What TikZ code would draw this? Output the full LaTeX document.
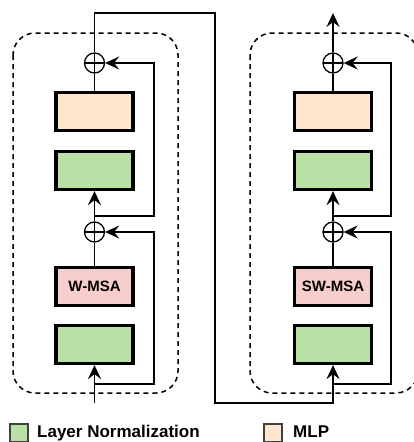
\documentclass[tikz,border=0pt]{standalone}
\usepackage{fontspec}
\setmainfont{Liberation Sans}
\usetikzlibrary{arrows.meta}
\definecolor{lngreen}{HTML}{B9E0A5}
\definecolor{mlporange}{HTML}{FFE6CC}
\definecolor{msapink}{HTML}{F8CECC}
\begin{document}
\begin{tikzpicture}[x=1pt,y=-1pt,
  blk/.style={draw=black,line width=3.2pt,minimum width=77pt,minimum height=38pt,inner sep=0pt,
    font=\bfseries\fontsize{15}{15}\selectfont},
  lnbox/.style={blk,fill=lngreen},
  mlpbox/.style={blk,fill=mlporange},
  msabox/.style={blk,fill=msapink},
  plus/.style={circle,draw,line width=1.3pt,minimum size=20pt,inner sep=0pt,
    path picture={\draw[line width=1.3pt] (path picture bounding box.north) -- (path picture bounding box.south)
      (path picture bounding box.west) -- (path picture bounding box.east);}},
  conn/.style={line width=1.8pt},
  arr/.style={conn,-{Stealth[length=14pt,width=13pt,inset=5pt]}},
  grp/.style={draw,line width=1.5pt,dash pattern=on 5pt off 4pt,rounded corners=22pt},
  legsq/.style={draw=black!75,line width=1.5pt,minimum size=18pt,inner sep=0pt},
  legtxt/.style={anchor=base west,inner sep=0pt,font=\bfseries\fontsize{17}{17}\selectfont}
]
\useasboundingbox (0,0) rectangle (414,442);
% groups
\draw[grp] (13,33) rectangle (178,393);
\draw[grp] (250,33) rectangle (418,393);
% left block
\node[lnbox] (ln1L) at (94.5,344.5) {};
\node[msabox] (msaL) at (94.5,286.5) {W-MSA};
\node[plus] (c2L) at (94.5,232) {};
\node[lnbox] (ln2L) at (94.5,170.5) {};
\node[mlpbox] (mlpL) at (94.5,111.5) {};
\node[plus] (c1L) at (94.5,63) {};
% right block
\node[lnbox] (ln1R) at (333,344.5) {};
\node[msabox] (msaR) at (333,286.5) {SW-MSA};
\node[plus] (c2R) at (333,232) {};
\node[lnbox] (ln2R) at (333,170.5) {};
\node[mlpbox] (mlpR) at (333,111.5) {};
\node[plus] (c1R) at (333,63) {};
% coordinates
\coordinate (inL) at (94.5,403);
\coordinate (bL1) at (94.5,384);
\coordinate (rL1) at (154,384);
\coordinate (bL2) at (94.5,216);
\coordinate (rL2) at (154,216);
\coordinate (topL) at (94.5,13);
\coordinate (topM) at (215,13);
\coordinate (botM) at (215,403);
\coordinate (inR) at (333,403);
\coordinate (bR1) at (333,384);
\coordinate (rR1) at (391,384);
\coordinate (bR2) at (333,216);
\coordinate (rR2) at (391,216);
\coordinate (outR) at (333,13);
% left connectors
\draw[arr] (inL) -- (ln1L.south);
\draw[arr] (bL1) -- (rL1) |- (c2L.east);
\draw[conn] (msaL.north) -- (c2L.south);
\draw[arr] (c2L.north) -- (ln2L.south);
\draw[arr] (bL2) -- (rL2) |- (c1L.east);
\draw[conn] (mlpL.north) -- (c1L.south);
% link between blocks
\draw[arr] (c1L.north) -- (topL) -- (topM) -- (botM) -- (inR) -- (ln1R.south);
% right connectors
\draw[arr] (bR1) -- (rR1) |- (c2R.east);
\draw[conn] (msaR.north) -- (c2R.south);
\draw[arr] (c2R.north) -- (ln2R.south);
\draw[arr] (bR2) -- (rR2) |- (c1R.east);
\draw[conn] (mlpR.north) -- (c1R.south);
\draw[arr] (c1R.north) -- (outR);
% legend
\node[legsq,fill=lngreen] (lgLN) at (19,433) {};
\node[legtxt] (txLN) at (37,437) {Layer Normalization};
\node[legsq,fill=mlporange] (lgMLP) at (273,433) {};
\node[legtxt] (txMLP) at (293,437) {MLP};
\end{tikzpicture}
\end{document}
